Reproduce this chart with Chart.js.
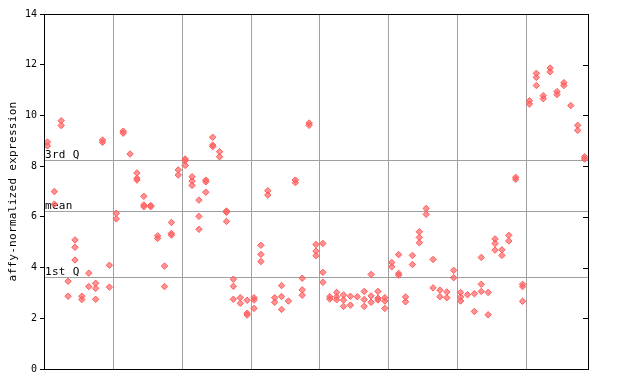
<!DOCTYPE html>
<html><head><meta charset="utf-8">
<script src="https://cdn.jsdelivr.net/npm/chart.js@4/dist/chart.umd.min.js"></script>
<style>html,body{margin:0;padding:0;background:#fff}#wrap{width:640px;height:384px}</style>
</head><body><div id="wrap"><canvas id="c" width="640" height="384"></canvas></div>
<script>
const sampleValues = [
[8.95,8.8],[7.0,6.5],[9.79,9.6],[3.46,2.87],[5.09,4.8,4.3],[2.87,2.74],[3.78,3.25],[3.38,3.18,2.75],[9.03,8.94],[4.09,3.23],
[6.14,5.92],[9.38,9.3],[8.48],[7.73,7.52,7.45],[6.81,6.47,6.4],[6.45,6.4],[5.25,5.15],[4.06,3.25],[5.78,5.35,5.28],[7.85,7.65],
[8.28,8.21,8.03],[7.58,7.41,7.24],[6.66,6.02,5.51],[7.45,7.38,6.97],[9.14,8.83,8.77],[8.57,8.37],[6.23,6.18,5.82],[3.54,3.26,2.75],[2.81,2.59],[2.71,2.2,2.13],
[2.81,2.72,2.39],[4.88,4.52,4.24],[7.03,6.86],[2.81,2.63],[3.29,2.86,2.35],[2.68],[7.45,7.35],[3.58,3.12,2.91],[9.7,9.61],[4.91,4.65,4.47],
[4.95,3.81,3.42],[2.85,2.76],[3.02,2.85,2.73],[2.92,2.72,2.47],[2.87,2.52],[2.85],[3.06,2.74,2.47],[3.73,2.88,2.63],[3.06,2.79,2.72],[2.81,2.68,2.39],
[4.2,4.03],[4.51,3.77,3.7],[2.84,2.65],[4.48,4.12],[5.41,5.19,4.98],[6.33,6.1],[4.32,3.2],[3.11,2.85],[3.04,2.81],[3.89,3.6],
[3.02,2.84,2.68],[2.93],[2.97,2.27],[4.4,3.34,3.06],[3.02,2.14],[5.13,4.95,4.69],[4.7,4.48],[5.27,5.05],[7.56,7.48],[3.34,3.25,2.67],
[10.58,10.45],[11.66,11.5,11.18],[10.78,10.66],[11.87,11.72],[10.94,10.82],[11.29,11.18],[10.39],[9.61,9.41],[8.37,8.28]
];
const refLines = [8.24, 6.23, 3.63];
const refLabels = ['3rd Q', 'mean', '1st Q'];
const groupBounds = [9.5, 19.5, 29.5, 39.5, 49.5, 59.5, 69.5];
const yTicks = [0, 2, 4, 6, 8, 10, 12, 14];
const yTitle = 'affy-normalized expression';

const points = [];
sampleValues.forEach((vals, i) => vals.forEach(v => points.push({x: i, y: v})));

const MONO = '"DejaVu Sans Mono", "Liberation Mono", monospace';

const deco = {
  id: 'deco',
  beforeDatasetsDraw(chart) {
    const {ctx, chartArea: a, scales: {x, y}} = chart;
    ctx.save();
    ctx.strokeStyle = '#a0a0a0';
    ctx.lineWidth = 1;
    groupBounds.forEach(b => {
      const px = Math.round(x.getPixelForValue(b)) + 0.5;
      ctx.beginPath(); ctx.moveTo(px, a.top); ctx.lineTo(px, a.bottom); ctx.stroke();
    });
    refLines.forEach(v => {
      const py = Math.round(y.getPixelForValue(v)) + 0.5;
      ctx.beginPath(); ctx.moveTo(a.left, py); ctx.lineTo(a.right, py); ctx.stroke();
    });
    ctx.fillStyle = '#000';
    ctx.font = '11px ' + MONO;
    ctx.letterSpacing = '0.3px';
    ctx.textBaseline = 'bottom';
    ctx.textAlign = 'left';
    refLines.forEach((v, k) => {
      const py = Math.round(y.getPixelForValue(v));
      ctx.fillText(refLabels[k], a.left + 1, py + 1);
    });
    ctx.restore();
  },
  afterDatasetsDraw(chart) {
    const {ctx, chartArea: a, scales: {y}} = chart;
    ctx.save();
    ctx.strokeStyle = '#000';
    ctx.lineWidth = 1;
    ctx.strokeRect(Math.round(a.left) + 0.5, Math.round(a.top) + 0.5, Math.round(a.right - a.left), Math.round(a.bottom - a.top));
    yTicks.forEach(t => {
      const py = Math.round(y.getPixelForValue(t)) + 0.5;
      ctx.beginPath(); ctx.moveTo(a.right - 5, py); ctx.lineTo(a.right, py); ctx.stroke();
    });
    ctx.fillStyle = '#000';
    ctx.font = '11px ' + MONO;
    ctx.letterSpacing = '0.3px';
    ctx.translate(13, (a.top + a.bottom) / 2);
    ctx.rotate(-Math.PI / 2);
    ctx.textAlign = 'center';
    ctx.textBaseline = 'middle';
    ctx.fillText(yTitle, 0, 0);
    ctx.restore();
  }
};

new Chart(document.getElementById('c'), {
  type: 'scatter',
  data: {
    datasets: [{
      data: points,
      pointStyle: 'rectRot',
      pointRadius: 3.2,
      pointHoverRadius: 3.2,
      borderWidth: 1,
      borderColor: '#ff5a5a',
      backgroundColor: 'rgba(255,100,100,0.7)'
    }]
  },
  plugins: [deco],
  options: {
    responsive: false,
    animation: false,
    events: [],
    layout: {padding: {left: 0, right: 52, top: 14, bottom: 15}},
    plugins: {legend: {display: false}, tooltip: {enabled: false}},
    scales: {
      x: {
        type: 'linear', min: -0.5, max: sampleValues.length - 0.5,
        display: false
      },
      y: {
        min: 0, max: 14,
        afterFit(s) { s.width = 44; },
        afterBuildTicks(s) { s.ticks = yTicks.map(v => ({value: v})); },
        grid: {drawOnChartArea: false, drawTicks: true, tickLength: 4, color: '#000'},
        border: {display: true, color: '#000'},
        ticks: {color: '#000', font: {family: MONO, size: 10}, padding: 3}
      }
    }
  }
});
</script>
</body></html>
